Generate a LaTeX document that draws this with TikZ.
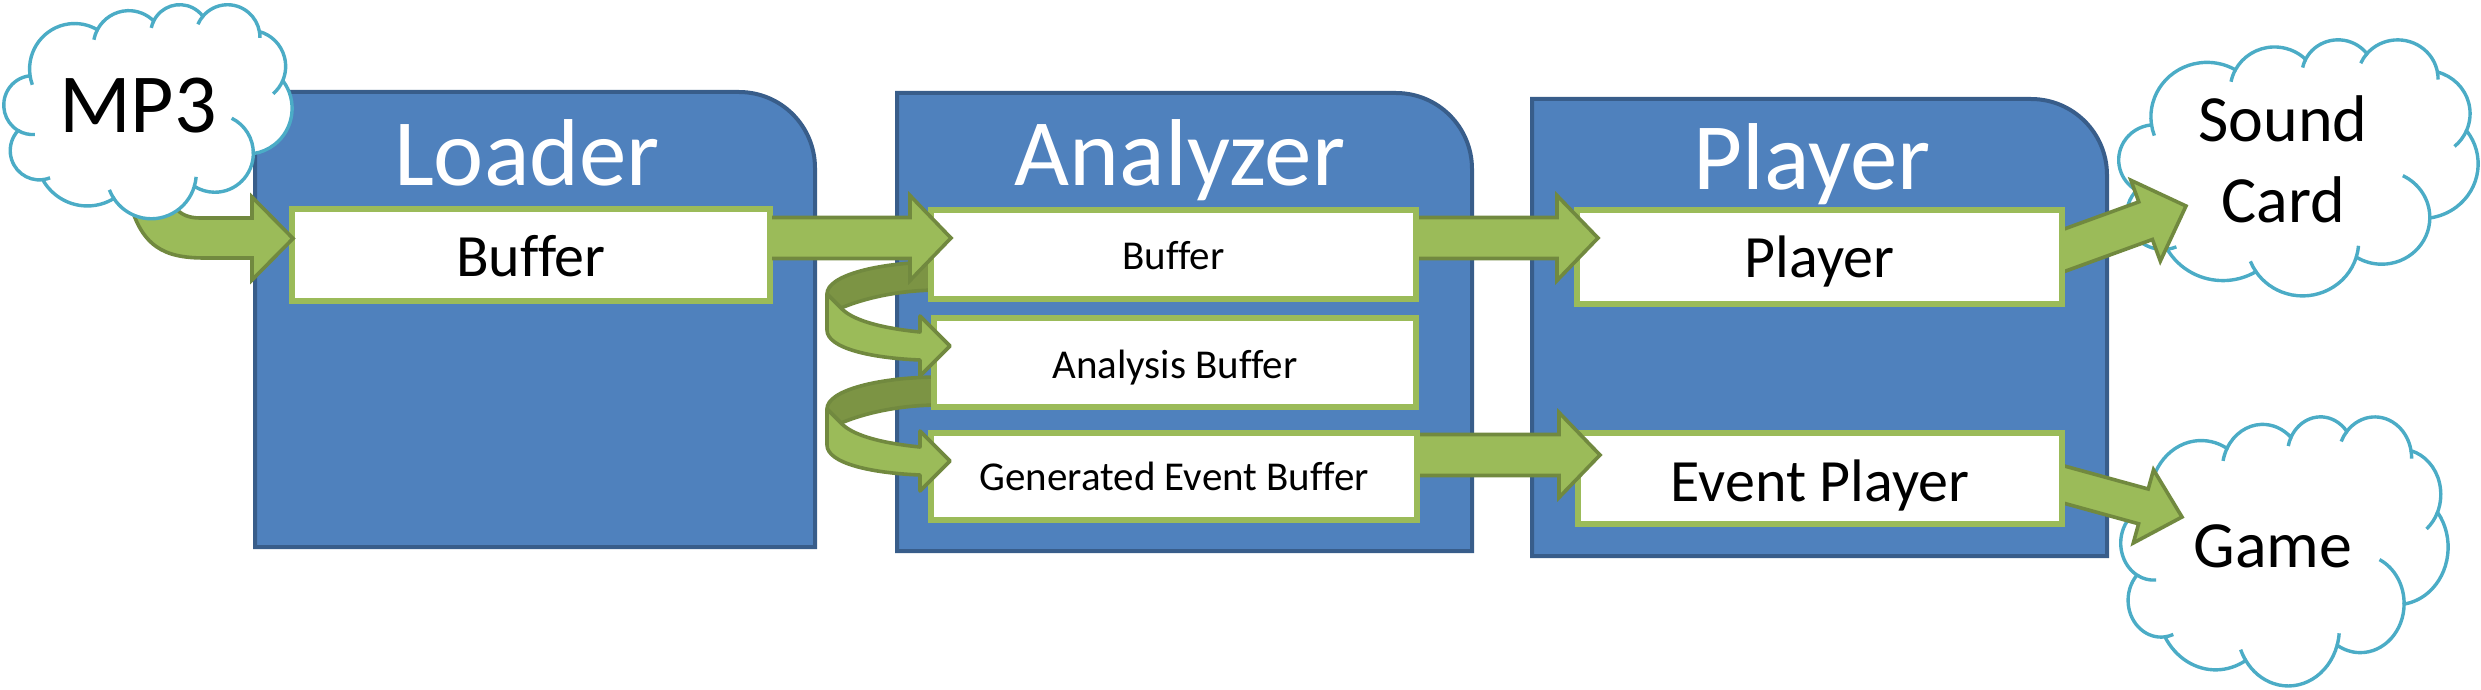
\documentclass[tikz,border=0pt]{standalone}
\usepackage{fontspec}
\setmainfont{Carlito}[Ligatures=NoCommon]
\definecolor{bluefill}{RGB}{79,129,189}
\definecolor{blueline}{RGB}{56,93,138}
\definecolor{pptgreen}{RGB}{155,187,89}
\definecolor{arrowedge}{RGB}{113,137,63}
\definecolor{arrowdark}{RGB}{124,148,68}
\definecolor{cloudline}{RGB}{75,172,198}

% PowerPoint-like cloud in a 100x100 box (y downwards)
\newcommand{\pptcloud}[3]{%
 \begin{scope}[shift={(#1,#2)}]
 \begin{scope}[x=1pt,y=1pt,#3]
 \filldraw[fill=white, draw=cloudline, line width=1.7pt] (9.028,33.264)
  arc[start angle=-187.75, end angle=-59.64, x radius=15.632, y radius=21.273]
  arc[start angle=-152.02, end angle=-45.45, x radius=12.345, y radius=16.822]
  arc[start angle=-153.49, end angle=-37.34, x radius=10.104, y radius=13.762]
  arc[start angle=-139.72, end angle=-10.22, x radius=11.243, y radius=15.266]
  arc[start angle=-74.77, end angle=23.21, x radius=12.345, y radius=16.836]
  arc[start angle=-37.52, end angle=81.86, x radius=15.683, y radius=21.343]
  arc[start angle=0.46, end angle=121.98, x radius=13.391, y radius=18.211]
  arc[start angle=16.84, end angle=146.23, x radius=15.630, y radius=21.331]
  arc[start angle=58.98, end angle=150.19, x radius=17.870, y radius=24.405]
  arc[start angle=-276.69, end angle=-136.88, x radius=10.093, y radius=13.699]
  arc[start angle=-239.66, end angle=-95.89, x radius=10.058, y radius=13.762]
  -- cycle;
 \draw[cloudline, line width=1.7pt]
  (10.747,60.972) arc[start angle=85.54, end angle=120.34, x radius=10.058, y radius=13.762]
  (15.994,81.213) arc[start angle=68.24, end angle=83.31, x radius=10.093, y radius=13.699]
  (38.144,90.879) arc[start angle=146.23, end angle=158.47, x radius=15.630, y radius=21.331]
  (66.714,80.782) arc[start angle=4.73, end angle=16.84, x radius=15.630, y radius=21.331]
  (79.055,53.387) arc[start angle=-64.02, end angle=0.46, x radius=13.391, y radius=18.211]
  (96.799,35.779) arc[start angle=23.21, end angle=49.64, x radius=12.345, y radius=16.836]
  (88.696,12.901) arc[start angle=-10.22, end angle=0.82, x radius=11.243, y radius=15.266]
  (67.338,9.471) arc[start angle=-156.29, end angle=-139.72, x radius=11.243, y radius=15.266]
  (51.148,11.159) arc[start angle=-167.72, end angle=-153.49, x radius=10.104, y radius=13.762]
  (31.206,16.686) arc[start angle=-168.88, end angle=-152.02, x radius=12.345, y radius=16.822]
  (9.845,37.742) arc[start angle=-200.2, end angle=-187.75, x radius=15.632, y radius=21.273];
 \end{scope}
 \end{scope}}

% blue container with a rounded top right corner: x1 y1 x2 y2
\newcommand{\drawbluebox}[4]{%
 \filldraw[bluebox] (#1,#4) -- (#1,#2) -- (#3-76,#2)
   .. controls (#3-34,#2) and (#3,#2+34) .. (#3,#2+76) -- (#3,#4) -- cycle;}

% horizontal block arrow: tail x, tip x, centre y
\newcommand{\blockharrow}[3]{%
 \fill[pptgreen] (#1,#3-20.5) -- (#2-41,#3-20.5) -- (#2-41,#3-42.5) -- (#2,#3)
   -- (#2-41,#3+42.5) -- (#2-41,#3+20.5) -- (#1,#3+20.5) -- cycle;
 \draw[arrowline] (#1,#3-20.5) -- (#2-41,#3-20.5) -- (#2-41,#3-42.5) -- (#2,#3)
   -- (#2-41,#3+42.5) -- (#2-41,#3+20.5) -- (#1,#3+20.5);}

% curled arrow, back (dark) part and front part, vertical offset
\newcommand{\ucurlback}[1]{%
 \begin{scope}[shift={(0,#1)}]
 \filldraw[fill=arrowdark, draw=arrowedge, line width=1.8pt, line join=round]
   (940,262) .. controls (880,262) and (827,275) .. (827,294) -- (841,308)
   .. controls (870,296) and (905,290) .. (940,290) -- cycle;
 \end{scope}}
\newcommand{\ucurlfront}[1]{%
 \begin{scope}[shift={(0,#1)}]
 \filldraw[blockarrow, line join=round]
   (827,294) -- (827,330) .. controls (827,348) and (870,358) .. (920,360)
   -- (920,376) -- (950,346) -- (920,316) -- (920,332)
   .. controls (880,328) and (852,320) .. (841,308) -- cycle;
 \end{scope}}

\begin{document}
\begin{tikzpicture}[x={(0.5pt,0pt)}, y={(0pt,-0.5pt)},
  bluebox/.style={fill=bluefill, draw=blueline, line width=2pt},
  innerbox/.style={draw=pptgreen, fill=white, line width=3pt, inner sep=0pt,
     text depth=0pt, font=\fontsize{30}{36}\selectfont},
  smallbox/.style={innerbox, font=\fontsize{20.5}{25}\selectfont},
  blockarrow/.style={fill=pptgreen, draw=arrowedge, line width=1.8pt},
  arrowline/.style={draw=arrowedge, line width=1.8pt},
  titletext/.style={text=white, font=\fontsize{47.5}{57}\selectfont, anchor=base, inner sep=0pt},
  cloudtext/.style={font=\fontsize{33}{40}\selectfont, anchor=base, inner sep=0pt}]
\useasboundingbox (0,0) rectangle (2481,690);

% containers
\drawbluebox{255}{92}{815}{547}
\drawbluebox{897}{93}{1472}{551}
\drawbluebox{1532}{99}{2107}{556}
\coordinate (loaderbox) at (535,320);
\coordinate (analyzerbox) at (1184,322);
\coordinate (playerbox) at (1819,328);

% back parts of the curled arrows
\ucurlback{0}
\ucurlback{115}

% output clouds
\pptcloud{2119}{39}{xscale=1.795,yscale=-1.28}
\pptcloud{2121}{416}{xscale=1.635,yscale=-1.345}
\node[cloudtext] (sound) at (2283,142) {Sound};
\node[cloudtext] (card) at (2283,222) {Card};
\node[cloudtext] (game) at (2273,567) {Game};

% arrows to the clouds (tails hidden by the boxes)
\filldraw[blockarrow] (2035.4,239.5) -- (2138.8,201.9) -- (2130.9,180.3) -- (2186,206)
   -- (2160.3,261.1) -- (2152.4,239.5) -- (2049.0,277.1) -- cycle;
\filldraw[blockarrow] (2042.2,459.9) -- (2148.2,489.0) -- (2153.5,469.8) -- (2182,517)
   -- (2133.3,543.0) -- (2138.6,523.8) -- (2032.6,494.6) -- cycle;

% inner boxes
\node[innerbox, minimum width=239pt, minimum height=45.75pt, text height=22.25pt] (lbuf) at (531,254.75) {Buffer};
\node[smallbox, minimum width=242.5pt, minimum height=44.5pt, text height=14.5pt] (abuf) at (1173.5,254.5) {Buffer};
\node[smallbox, minimum width=241pt, minimum height=44.5pt, text height=15.5pt] (anbuf) at (1175,362.5) {Analysis Buffer};
\node[smallbox, minimum width=243pt, minimum height=43.5pt, text height=13.5pt] (gebuf) at (1174,476.5) {Generated Event Buffer};
\node[innerbox, minimum width=242.5pt, minimum height=47pt, text height=21pt] (pbuf) at (1819.5,257) {Player};
\node[innerbox, minimum width=242pt, minimum height=45.5pt, text height=22.5pt] (epbuf) at (1820,478.5) {Event Player};

% horizontal arrows
\blockharrow{772}{951}{238}
\blockharrow{1419}{1598}{238}
\blockharrow{1420}{1600}{455}

% front parts of the curled arrows
\ucurlfront{0}
\ucurlfront{115}

% MP3 arrow and cloud
\filldraw[blockarrow] (165,175) .. controls (168,205) and (178,218) .. (200,218)
   -- (252,218) -- (252,197) -- (293,238.5) -- (252,280) -- (252,258) -- (205,258)
   .. controls (165,258) and (140,248) .. (128,195) -- cycle;
\pptcloud{4}{4}{xscale=1.44,yscale=-1.07}
\node[font=\fontsize{42}{50}\selectfont, anchor=base, inner sep=0pt] (mp3) at (138,133) {MP3};

% titles
\node[titletext] (tloader) at (527,185) {Loader};
\node[titletext] (tanalyzer) at (1180,185) {Analyzer};
\node[titletext] (tplayer) at (1812,190) {Player};
\end{tikzpicture}
\end{document}
